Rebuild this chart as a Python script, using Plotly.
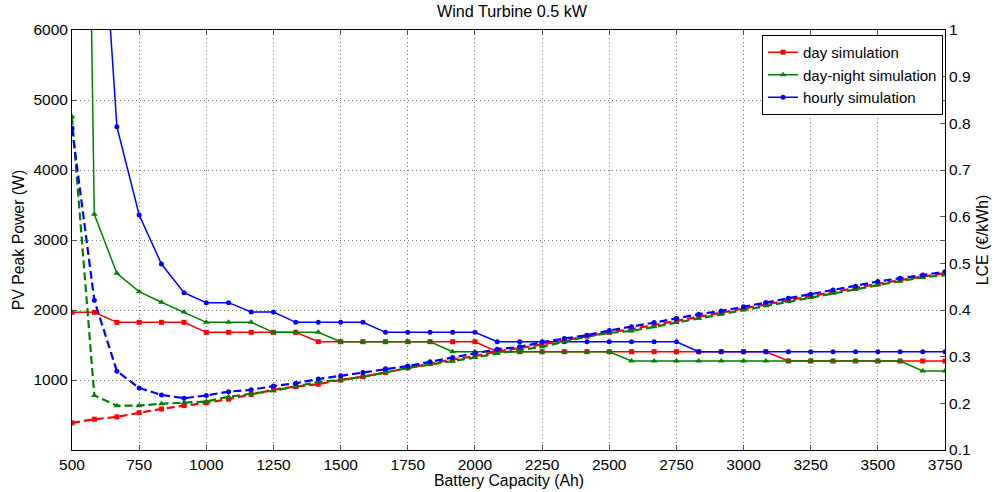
import plotly.graph_objects as go

battery_ah = [500, 583, 667, 750, 833, 917, 1000, 1083, 1167, 1250,
              1333, 1417, 1500, 1583, 1667, 1750, 1833, 1917, 2000, 2083,
              2167, 2250, 2333, 2417, 2500, 2583, 2667, 2750, 2833, 2917,
              3000, 3083, 3167, 3250, 3333, 3417, 3500, 3583, 3667, 3750]

pv_day = [1967, 1967, 1824, 1824, 1824, 1824, 1681, 1681, 1681, 1681,
          1681, 1547, 1547, 1547, 1547, 1547, 1547, 1547, 1547, 1404,
          1404, 1404, 1404, 1404, 1404, 1404, 1404, 1404, 1404, 1404,
          1404, 1404, 1271, 1271, 1271, 1271, 1271, 1271, 1271, 1271]

pv_daynight = [25000, 3367, 2524, 2262, 2110, 1971, 1824, 1824, 1824, 1681,
               1681, 1681, 1547, 1547, 1547, 1547, 1547, 1404, 1404, 1404,
               1404, 1404, 1404, 1404, 1404, 1271, 1271, 1271, 1271, 1271,
               1271, 1271, 1271, 1271, 1271, 1271, 1271, 1271, 1129, 1129]

pv_hourly = [20000, 9500, 4619, 3357, 2657, 2248, 2105, 2105, 1971, 1971,
             1824, 1824, 1824, 1824, 1681, 1681, 1681, 1681, 1681, 1547,
             1547, 1547, 1547, 1547, 1547, 1547, 1547, 1547, 1404, 1404,
             1404, 1404, 1404, 1404, 1404, 1404, 1404, 1404, 1404, 1404]

lce_day = [0.158, 0.166, 0.171, 0.180, 0.188, 0.195, 0.201, 0.209, 0.219, 0.229,
           0.236, 0.241, 0.250, 0.257, 0.266, 0.276, 0.285, 0.294, 0.301, 0.311,
           0.318, 0.326, 0.335, 0.344, 0.352, 0.359, 0.368, 0.377, 0.386, 0.394,
           0.403, 0.412, 0.421, 0.430, 0.439, 0.447, 0.456, 0.464, 0.472, 0.479]

lce_daynight = [0.814, 0.217, 0.195, 0.195, 0.199, 0.201, 0.204, 0.214, 0.221, 0.227,
                0.236, 0.246, 0.250, 0.257, 0.266, 0.276, 0.283, 0.290, 0.298, 0.307,
                0.314, 0.321, 0.332, 0.343, 0.351, 0.355, 0.364, 0.373, 0.382, 0.391,
                0.400, 0.409, 0.418, 0.427, 0.436, 0.444, 0.454, 0.462, 0.470, 0.475]

lce_hourly = [0.790, 0.421, 0.269, 0.233, 0.218, 0.211, 0.217, 0.225, 0.229, 0.237,
              0.243, 0.252, 0.259, 0.266, 0.274, 0.280, 0.289, 0.298, 0.308, 0.316,
              0.321, 0.331, 0.339, 0.346, 0.356, 0.364, 0.373, 0.382, 0.391, 0.398,
              0.407, 0.416, 0.425, 0.434, 0.443, 0.451, 0.461, 0.468, 0.475, 0.482]

names = ["day simulation", "day-night simulation", "hourly simulation"]
colors = ["#ff0000", "#008000", "#0000ff"]
symbols = ["square", "triangle-up", "circle"]
msizes = [5, 6, 5]
pv_series = [pv_day, pv_daynight, pv_hourly]
lce_series = [lce_day, lce_daynight, lce_hourly]

FONT = "Liberation Sans, Arial, sans-serif"
FS = 15.5
TFS = 15.8

fig = go.Figure()

for name, col, sym, ms, pv in zip(names, colors, symbols, msizes, pv_series):
    fig.add_trace(go.Scatter(
        x=battery_ah, y=pv, name=name, mode="lines+markers",
        line=dict(color=col, width=1.5),
        marker=dict(symbol=sym, size=ms, color=col),
        yaxis="y", cliponaxis=True,
    ))

for name, col, sym, ms, lce in zip(names, colors, symbols, msizes, lce_series):
    fig.add_trace(go.Scatter(
        x=battery_ah, y=lce, name=name, mode="lines+markers",
        line=dict(color=col, width=2.2, dash="8px,4px"),
        marker=dict(symbol=sym, size=ms, color=col),
        yaxis="y2", showlegend=False, cliponaxis=True,
    ))

GRID = dict(showgrid=True, gridcolor="#777777", griddash="1px,3px", gridwidth=1)

fig.update_layout(
    width=1000, height=492,
    margin=dict(l=72, r=48, t=30, b=42),
    paper_bgcolor="white", plot_bgcolor="white",
    font=dict(family=FONT, size=FS, color="black"),
    title=dict(text="Wind Turbine 0.5 kW", x=(72 + 952) / 2 / 1000, xanchor="center",
               y=1 - 11 / 492, yanchor="middle", font=dict(size=16.2)),
    xaxis=dict(
        range=[500, 3750], tickvals=[500 + 250 * i for i in range(14)],
        showline=True, linecolor="black", linewidth=1, mirror="ticks",
        ticks="inside", ticklen=5, tickcolor="#555555",
        zeroline=False,
        tickfont=dict(size=FS), **GRID,
    ),
    yaxis=dict(
        range=[0, 6000], tickvals=[1000, 2000, 3000, 4000, 5000, 6000],
        showline=True, linecolor="black", linewidth=1, mirror="ticks",
        ticks="inside", ticklen=5, tickcolor="#555555",
        zeroline=False,
        title=dict(text="PV Peak Power (W)", standoff=4, font=dict(size=TFS)),
        tickfont=dict(size=FS), **GRID,
    ),
    yaxis2=dict(
        range=[0.1, 1], overlaying="y", side="right",
        tickvals=[0.1, 0.2, 0.3, 0.4, 0.5, 0.6, 0.7, 0.8, 0.9, 1.0],
        ticktext=["0.1", "0.2", "0.3", "0.4", "0.5", "0.6", "0.7", "0.8", "0.9", "1"],
        showline=True, linecolor="black", linewidth=1,
        ticks="inside", ticklen=5, tickcolor="#555555",
        showgrid=False, zeroline=False,
        title=dict(text="LCE (€/kWh)", standoff=6, font=dict(size=TFS)),
        tickfont=dict(size=FS),
    ),
    legend=dict(
        x=(950 - 72) / 880, xanchor="right", y=(450 - 35) / 420, yanchor="top",
        bgcolor="white", bordercolor="black", borderwidth=1,
        font=dict(size=15), tracegroupgap=0, itemwidth=30,
    ),
    annotations=[dict(
        text="Battery Capacity (Ah)", xref="paper", yref="paper",
        x=0.5, y=-(480 - 450) / 420, xanchor="center", yanchor="middle",
        showarrow=False, font=dict(size=TFS),
    )],
    showlegend=True,
)

fig.write_html("out.html")
